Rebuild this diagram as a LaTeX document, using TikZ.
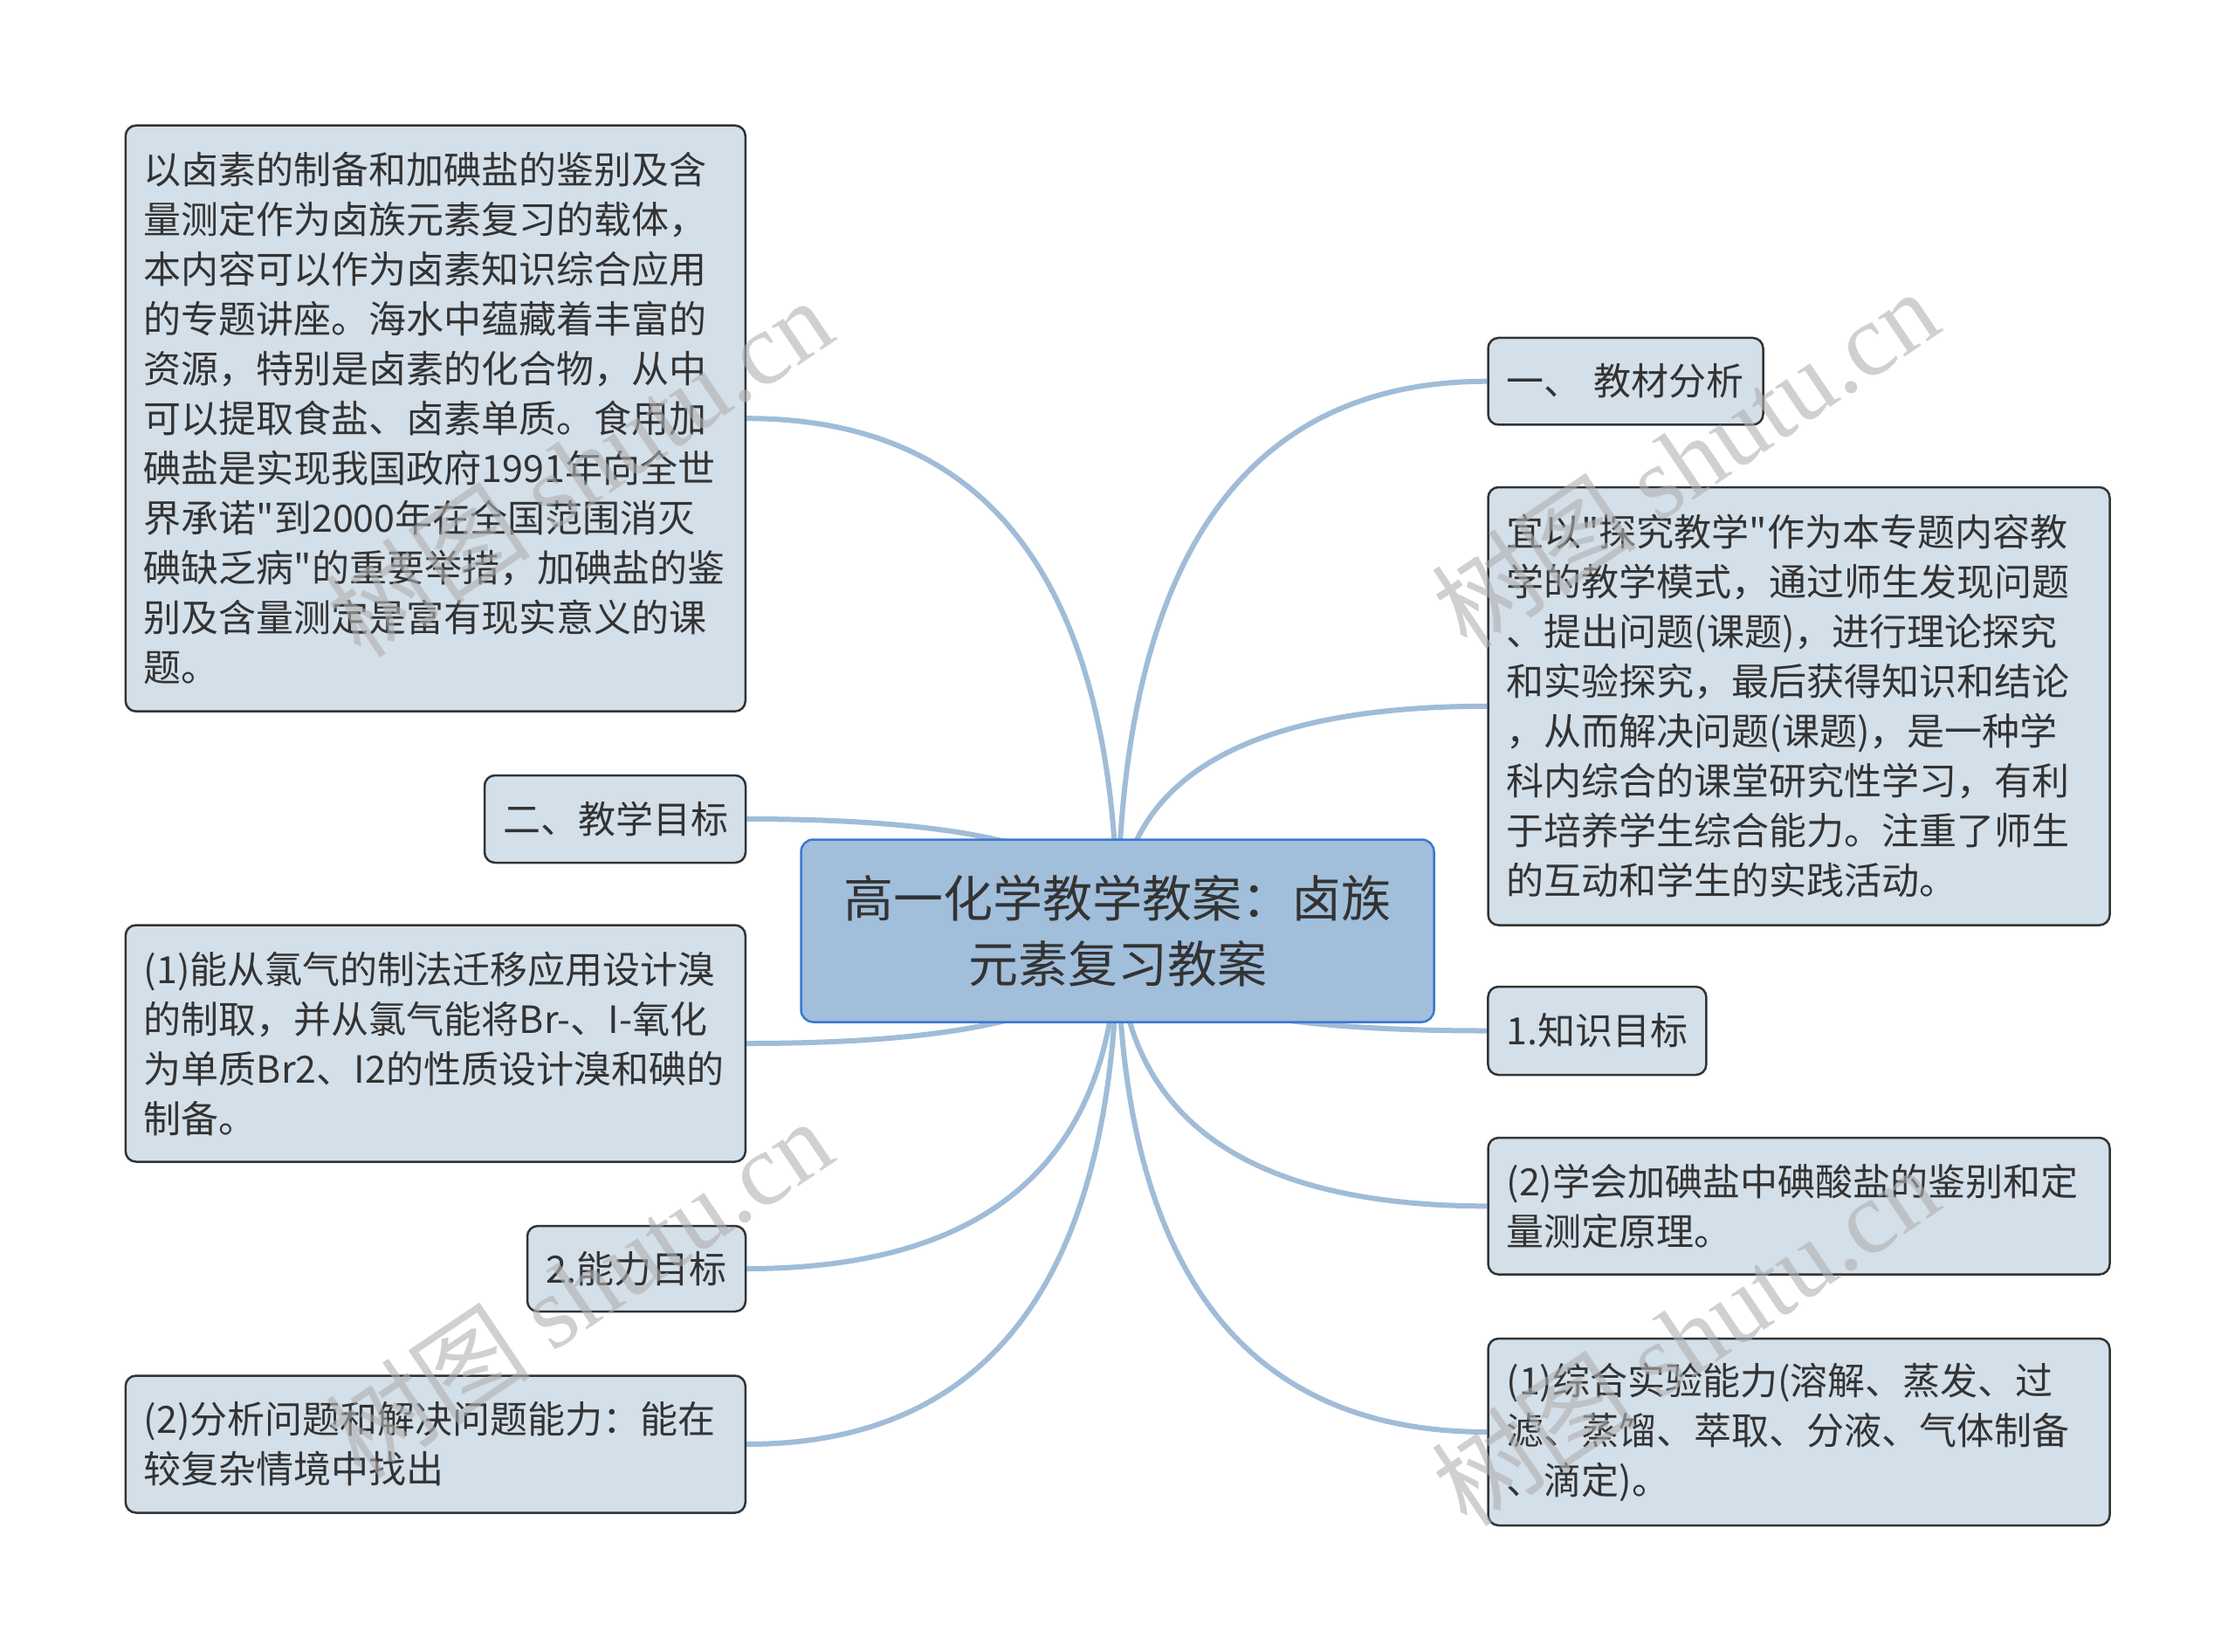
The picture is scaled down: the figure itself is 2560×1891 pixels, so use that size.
\documentclass[tikz,border=0pt]{standalone}
\usepackage{fontspec}
\setmainfont{Noto Sans CJK SC}
\newfontfamily\cjk{Noto Sans CJK SC}
\newfontfamily\wmserif{Liberation Serif}
\usetikzlibrary{calc,backgrounds}
\definecolor{boxfill}{HTML}{D3DFE9}
\definecolor{boxdraw}{HTML}{333333}
\definecolor{txt}{HTML}{333333}
\definecolor{ctrfill}{HTML}{A1BEDB}
\definecolor{ctrdraw}{HTML}{3A78D0}
\definecolor{conncol}{HTML}{A0BCD8}
\definecolor{wmcol}{HTML}{B0B0B0}
\tikzset{
  box/.style={draw=boxdraw, line width=2.5pt, fill=boxfill, rounded corners=12pt,
    inner xsep=21pt, inner ysep=0pt, align=left, text=txt,
    font=\cjk\fontsize{43}{57}\selectfont, anchor=center},
  ctrbox/.style={draw=ctrdraw, line width=2.5pt, fill=ctrfill, rounded corners=14pt,
    inner sep=0pt, align=center, text=txt,
    font=\cjk\fontsize{57}{75}\selectfont, anchor=center},
  conn/.style={draw=conncol, line width=6pt},
  branch/.style={to path={
    let \p1=(\tikztostart), \p2=(\tikztotarget) in
    .. controls (\x1, {\y1+0.667*(\y2-\y1)}) and ({\x2+0.667*(\x1-\x2)}, \y2) .. (\tikztotarget)}},
  wm/.style={text=wmcol, opacity=0.6, rotate=34, font=\cjk\fontsize{118}{125}\selectfont, inner sep=0pt}
}
\begin{document}
\begin{tikzpicture}[x=1pt,y=-1pt]
\useasboundingbox (0,0) rectangle (2560,1891);

% central node
\node[ctrbox, minimum width=725pt, minimum height=209pt] (ctr) at (1280,1066)
  {高一化学教学教案：卤族\\元素复习教案};

% left nodes
\node[box, minimum width=710pt, minimum height=671pt, text width=668pt] (l1) at (498.8,479.2)
  {以卤素的制备和加碘盐的鉴别及含\\量测定作为卤族元素复习的载体，\\本内容可以作为卤素知识综合应用\\的专题讲座。海水中蕴藏着丰富的\\资源，特别是卤素的化合物，从中\\可以提取食盐、卤素单质。食用加\\碘盐是实现我国政府1991年向全世\\界承诺"到2000年在全国范围消灭\\碘缺乏病"的重要举措，加碘盐的鉴\\别及含量测定是富有现实意义的课\\题。};
\node[box, minimum width=299pt, minimum height=100pt, text width=257pt] (l2) at (704.5,938)
  {二、教学目标};
\node[box, minimum width=710pt, minimum height=271pt, text width=668pt] (l3) at (498.8,1195)
  {(1)能从氯气的制法迁移应用设计溴\\的制取，并从氯气能将Br-、I-氧化\\为单质Br2、I2的性质设计溴和碘的\\制备。};
\node[box, minimum width=250pt, minimum height=98pt, text width=208pt] (l4) at (729,1453)
  {2.能力目标};
\node[box, minimum width=710pt, minimum height=157pt, text width=668pt] (l5) at (498.8,1654)
  {(2)分析问题和解决问题能力：能在\\较复杂情境中找出};

% right nodes
\node[box, minimum width=315pt, minimum height=99.5pt, text width=273pt] (r1) at (1862,436.7)
  {一、~教材分析};
\node[box, minimum width=712pt, minimum height=501.6pt, text width=670pt] (r2) at (2060.5,808.8)
  {宜以"探究教学"作为本专题内容教\\学的教学模式，通过师生发现问题\\、提出问题(课题)，进行理论探究\\和实验探究，最后获得知识和结论\\，从而解决问题(课题)，是一种学\\科内综合的课堂研究性学习，有利\\于培养学生综合能力。注重了师生\\的互动和学生的实践活动。};
\node[box, minimum width=250pt, minimum height=101pt, text width=208pt] (r3) at (1829.4,1180.5)
  {1.知识目标};
\node[box, minimum width=712pt, minimum height=156.6pt, text width=670pt] (r4) at (2060.5,1381.3)
  {(2)学会加碘盐中碘酸盐的鉴别和定\\量测定原理。};
\node[box, minimum width=712pt, minimum height=214pt, text width=670pt] (r5) at (2060.5,1640)
  {(1)综合实验能力(溶解、蒸发、过\\滤、蒸馏、萃取、分液、气体制备\\、滴定)。};

% connectors
\begin{scope}[on background layer]
\draw[conn] (ctr.center) to[branch] (l1.east);
\draw[conn] (ctr.center) to[branch] (l2.east);
\draw[conn] (ctr.center) to[branch] (l3.east);
\draw[conn] (ctr.center) to[branch] (l4.east);
\draw[conn] (ctr.center) to[branch] (l5.east);
\draw[conn] (ctr.center) to[branch] (r1.west);
\draw[conn] (ctr.center) to[branch] (r2.west);
\draw[conn] (ctr.center) to[branch] (r3.west);
\draw[conn] (ctr.center) to[branch] (r4.west);
\draw[conn] (ctr.center) to[branch] (r5.west);
\end{scope}

% watermarks
\node[wm] (w1) at (663,535) {树图 {\wmserif shutu.cn}};
\node[wm] (w2) at (1930,525) {树图 {\wmserif shutu.cn}};
\node[wm] (w3) at (663,1475) {树图 {\wmserif shutu.cn}};
\node[wm] (w4) at (1930,1530) {树图 {\wmserif shutu.cn}};
\end{tikzpicture}
\end{document}
